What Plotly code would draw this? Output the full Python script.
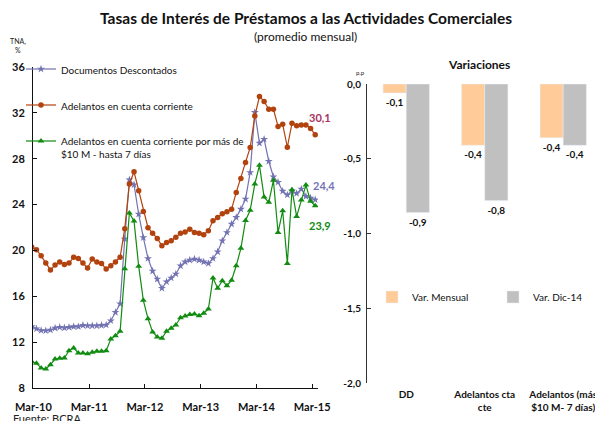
import plotly.graph_objects as go

# ---------------- data ----------------
month_ticks = ["Mar-10", "Mar-11", "Mar-12", "Mar-13", "Mar-14", "Mar-15"]

doc_descontados = [
    13.35, 13.17, 13.02, 13.00, 13.06, 13.23, 13.30, 13.25, 13.30, 13.35,
    13.35, 13.47, 13.43, 13.43, 13.43, 13.47, 13.50, 13.87, 14.60, 15.35,
    21.00, 26.16, 25.73, 23.17, 21.12, 19.30, 18.20, 17.50, 16.70, 17.27,
    17.60, 17.95, 18.66, 19.00, 19.16, 19.25, 19.16, 19.00, 18.87, 19.30,
    19.88, 20.84, 21.57, 22.30, 22.88, 23.60, 24.48, 26.80, 32.04, 29.36,
    29.70, 27.78, 26.43, 25.95, 25.17, 24.84, 25.20, 24.97, 25.35, 24.72,
    24.57, 24.42]

adelantos_cc = [
    20.30, 20.06, 19.53, 18.90, 18.30, 18.72, 18.98, 18.78, 18.90, 19.40,
    19.30, 18.90, 18.46, 19.25, 19.00, 18.87, 18.37, 18.66, 19.00, 19.40,
    21.90, 25.80, 26.86, 25.20, 23.40, 21.98, 21.50, 21.05, 20.40, 20.70,
    20.84, 21.14, 21.50, 21.60, 21.85, 21.57, 21.50, 21.37, 21.72, 22.59,
    22.88, 23.20, 23.37, 23.60, 25.06, 26.28, 27.68, 28.98, 31.72, 33.43,
    33.00, 32.32, 32.32, 30.81, 31.00, 29.00, 31.10, 30.87, 30.95, 30.95,
    30.64, 30.10]

adelantos_10m = [
    10.29, 10.15, 9.74, 9.66, 10.03, 10.53, 10.59, 10.62, 11.25, 11.49,
    11.05, 11.05, 10.99, 11.11, 11.20, 11.20, 11.25, 12.27, 12.56, 12.94,
    18.40, 23.26, 22.56, 18.63, 15.65, 14.05, 12.88, 12.45, 12.33, 12.95,
    13.21, 13.50, 14.13, 14.28, 14.42, 14.45, 14.30, 14.53, 14.89, 17.60,
    16.70, 17.36, 16.92, 17.40, 18.66, 20.18, 22.62, 23.50, 25.80, 27.42,
    24.65, 24.20, 26.12, 21.57, 23.46, 18.87, 25.30, 22.97, 24.40, 25.70,
    24.30, 23.90]

var_categories = ["DD", "Adelantos cta<br>cte", "Adelantos (más<br>$10 M- 7 días)"]
var_mensual = [-0.06, -0.41, -0.36]
var_dic14 = [-0.86, -0.78, -0.41]

y_ticks_right = [0.0, -0.5, -1.0, -1.5, -2.0]

# ---------------- styling ----------------
FONT = "Lato"
C_OR = "#B2420E"
C_BL = "#7373B3"
C_GR = "#118C11"
W, H = 595, 421

def px_x(p):
    return p / W

def px_y(p):
    return (H - p) / H

def fmt(v):
    return f"{v:.1f}".replace(".", ",")

idx = list(range(len(doc_descontados)))

fig = go.Figure()

fig.add_trace(go.Scatter(
    x=idx, y=doc_descontados, name="Documentos Descontados", mode="lines+markers",
    line=dict(color=C_BL, width=1.2), marker=dict(symbol="star", size=6, color=C_BL),
    legendgroup="a", legend="legend", xaxis="x", yaxis="y"))
fig.add_trace(go.Scatter(
    x=idx, y=adelantos_cc, name="Adelantos en cuenta corriente", mode="lines+markers",
    line=dict(color=C_OR, width=1.2), marker=dict(symbol="circle", size=5.5, color=C_OR),
    legendgroup="b", legend="legend", xaxis="x", yaxis="y"))
fig.add_trace(go.Scatter(
    x=idx, y=adelantos_10m,
    name="Adelantos en cuenta corriente por más de<br>$10 M - hasta 7 días",
    mode="lines+markers",
    line=dict(color=C_GR, width=1.2), marker=dict(symbol="triangle-up", size=6, color=C_GR),
    legendgroup="c", legend="legend", xaxis="x", yaxis="y"))

fig.add_trace(go.Bar(
    x=var_categories, y=var_mensual, name="Var. Mensual", marker_color="#FFCC99",
    text=[fmt(v) for v in var_mensual], textposition="outside", cliponaxis=False,
    textfont=dict(family=FONT, size=10, color="#111111", weight="bold"),
    legend="legend2", xaxis="x2", yaxis="y2"))
fig.add_trace(go.Bar(
    x=var_categories, y=var_dic14, name="Var. Dic-14", marker_color="#C0C0C0",
    text=[fmt(v) for v in var_dic14], textposition="outside", cliponaxis=False,
    textfont=dict(family=FONT, size=10, color="#111111", weight="bold"),
    legend="legend2", xaxis="x2", yaxis="y2"))

tick_font = dict(family=FONT, size=11, color="#111111", weight="bold")

ann = [
    dict(text="<b>Tasas de Interés de Préstamos a las Actividades Comerciales</b>",
         x=px_x(306), y=px_y(18), xref="paper", yref="paper", showarrow=False,
         font=dict(family=FONT, size=15.5, color="#111111"), xanchor="center", yanchor="middle"),
    dict(text="(promedio mensual)", x=px_x(305), y=px_y(37), xref="paper", yref="paper",
         showarrow=False, font=dict(family=FONT, size=12, color="#111111"),
         xanchor="center", yanchor="middle"),
    dict(text="TNA,<br>%", x=px_x(18), y=px_y(45), xref="paper", yref="paper",
         showarrow=False, font=dict(family=FONT, size=7, color="#222222"),
         xanchor="center", yanchor="middle"),
    dict(text="<b>Variaciones</b>", x=px_x(479), y=px_y(65), xref="paper", yref="paper",
         showarrow=False, font=dict(family=FONT, size=12, color="#111111"),
         xanchor="center", yanchor="middle"),
    dict(text="p.p", x=px_x(360), y=px_y(72), xref="paper", yref="paper",
         showarrow=False, font=dict(family=FONT, size=6, color="#222222"),
         xanchor="center", yanchor="middle"),
    dict(text="Fuente: BCRA", x=px_x(11), y=px_y(410), xref="paper", yref="paper",
         showarrow=False, font=dict(family=FONT, size=11, color="#222222"),
         xanchor="left", yanchor="top"),
    dict(text="<b>" + fmt(adelantos_cc[-1]) + "</b>", x=idx[-1], y=adelantos_cc[-1],
         xref="x", yref="y", xshift=5, yshift=17, showarrow=False,
         font=dict(family=FONT, size=11, color="#A8325F")),
    dict(text="<b>" + fmt(doc_descontados[-1]) + "</b>", x=idx[-1], y=doc_descontados[-1],
         xref="x", yref="y", xshift=9, yshift=14, showarrow=False,
         font=dict(family=FONT, size=11, color=C_BL)),
    dict(text="<b>" + fmt(adelantos_10m[-1]) + "</b>", x=idx[-1], y=adelantos_10m[-1],
         xref="x", yref="y", xshift=5, yshift=-20, showarrow=False,
         font=dict(family=FONT, size=11, color=C_GR)),
]

fig.update_layout(
    width=W, height=H, autosize=False,
    margin=dict(l=0, r=0, t=0, b=0, autoexpand=False),
    paper_bgcolor="white", plot_bgcolor="white",
    font=dict(family=FONT, color="#111111"),
    barmode="group", bargap=0.41, bargroupgap=0.0,
    annotations=ann,
    xaxis=dict(domain=[px_x(33), px_x(318)], anchor="y", range=[0.25, 61.6],
               tickvals=[12 * k + 0.35 for k in range(len(month_ticks))], ticktext=month_ticks,
               showline=True, linecolor="#111111", linewidth=1, ticks="inside", ticklen=4,
               tickcolor="#111111", showgrid=False, zeroline=False, tickfont=tick_font,
               ticklabelstandoff=9, automargin=False),
    yaxis=dict(domain=[px_y(388), px_y(67)], anchor="x", range=[8, 36], dtick=4, tick0=8,
               showline=True, linecolor="#111111", linewidth=1, ticks="inside", ticklen=4,
               tickcolor="#111111", showgrid=False, zeroline=False, tickfont=tick_font,
               ticklabelstandoff=5, automargin=False),
    xaxis2=dict(domain=[px_x(367), 1.0], anchor="y2", side="bottom", range=[-0.5, 2.405],
                showline=False, ticks="", showgrid=False, zeroline=False,
                tickfont=dict(family=FONT, size=10, color="#111111", weight="bold"),
                ticklabelstandoff=4, automargin=False),
    xaxis3=dict(domain=[px_x(367), 1.0], anchor="y2", overlaying="x2", side="top",
                range=[-0.5, 2.405], tickvals=[-0.5, 0.5, 1.5, 2.5], showticklabels=False,
                showline=True, linecolor="#333333", linewidth=1, ticks="outside", ticklen=4,
                tickcolor="#333333", showgrid=False, zeroline=False, automargin=False),
    yaxis2=dict(domain=[px_y(383), px_y(84)], anchor="x2", range=[-2.0, 0.0],
                tickvals=y_ticks_right, ticktext=[fmt(v) for v in y_ticks_right],
                showline=True, linecolor="#333333", linewidth=1, ticks="inside", ticklen=4,
                tickcolor="#333333", showgrid=False, zeroline=False,
                tickfont=dict(family=FONT, size=10, color="#111111", weight="bold"),
                ticklabelstandoff=3, automargin=False),
    legend=dict(x=px_x(21), y=px_y(56), xanchor="left", yanchor="top",
                bgcolor="rgba(0,0,0,0)", font=dict(family=FONT, size=10, color="#111111"),
                traceorder="grouped", tracegroupgap=17, valign="top", itemwidth=30),
    legend2=dict(x=px_x(372), y=px_y(297), xanchor="left", yanchor="middle",
                 orientation="h", bgcolor="rgba(0,0,0,0)",
                 font=dict(family=FONT, size=10, color="#111111"),
                 entrywidth=76, entrywidthmode="pixels"),
)

post = (
    "document.body.style.margin='0px';"
    "document.body.style.overflow='hidden';"
    "var gd=document.getElementById('{plot_id}');"
    "Plotly.relayout(gd,{width:595,height:421});"
)

fig.write_html("out.html", config={"displayModeBar": False, "responsive": False},
               post_script=post)
